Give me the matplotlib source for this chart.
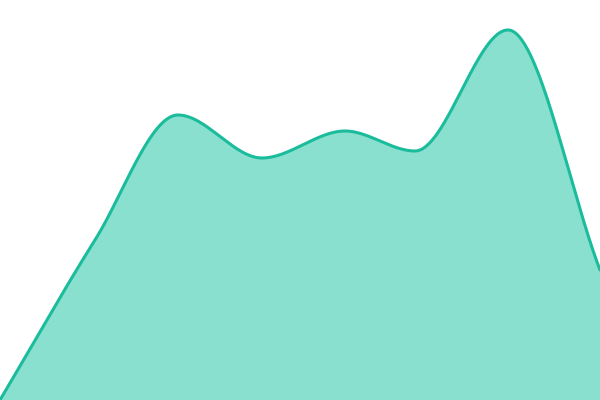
import numpy as np
import matplotlib
matplotlib.use("Agg")
import matplotlib.pyplot as plt

# sample points
x_vals = [0, 95, 178, 262, 345, 415, 508, 600]
y_vals = [0, 40, 71.25, 60.5, 67.25, 62.25, 92.5, 32.5]

line_color = "#1abc9c"
fill_color = "#8ae0cf"


def monotone_cubic(x, y, n=400):
    # Fritsch-Carlson monotone interpolation (like d3 curveMonotoneX)
    x = np.asarray(x, float)
    y = np.asarray(y, float)
    h = np.diff(x)
    d = np.diff(y) / h
    m = np.zeros_like(y)
    for i in range(1, len(y) - 1):
        if d[i - 1] * d[i] <= 0:
            m[i] = 0
        else:
            w1 = 2 * h[i] + h[i - 1]
            w2 = h[i] + 2 * h[i - 1]
            m[i] = (w1 + w2) / (w1 / d[i - 1] + w2 / d[i])
    m[0] = d[0]
    m[-1] = d[-1]
    xs = np.linspace(x[0], x[-1], n)
    idx = np.clip(np.searchsorted(x, xs) - 1, 0, len(h) - 1)
    t = (xs - x[idx]) / h[idx]
    h00 = 2 * t**3 - 3 * t**2 + 1
    h10 = t**3 - 2 * t**2 + t
    h01 = -2 * t**3 + 3 * t**2
    h11 = t**3 - t**2
    ys = h00 * y[idx] + h10 * h[idx] * m[idx] + h01 * y[idx + 1] + h11 * h[idx] * m[idx + 1]
    return xs, ys


xs, ys = monotone_cubic(x_vals, y_vals)

fig = plt.figure(figsize=(6, 4), dpi=100)
ax = fig.add_axes([0, 0, 1, 1])
ax.fill_between(xs, 0, ys, color=fill_color, linewidth=0)
ax.plot(xs, ys, color=line_color, linewidth=2.2, solid_capstyle="round")
ax.set_xlim(0, 600)
ax.set_ylim(0, 100)
ax.axis("off")

fig.savefig("out.png", dpi=100)
